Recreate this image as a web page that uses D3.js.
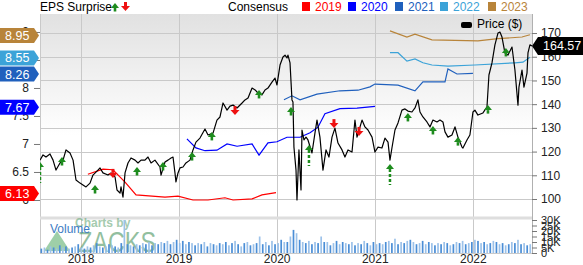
<!DOCTYPE html>
<html>
<head>
<meta charset="utf-8">
<script src="https://cdn.jsdelivr.net/npm/d3@7"></script>
<style>
body { margin: 0; background: #fff; }
svg { display: block; font-family: "Liberation Sans", Arial, sans-serif; }
</style>
</head>
<body>
<div id="chart"></div>
<script>
// ##### data (decimal year, value) #####
var priceData = [
[2017.587,116.4],[2017.618,118.6],[2017.648,117.7],[2017.689,119.0],[2017.720,116.4],[2017.750,112.2],
[2017.791,115.2],[2017.822,116.4],[2017.852,120.7],[2017.893,119.4],[2017.924,116.4],[2017.954,108.0],
[2017.995,106.7],[2018.025,105.9],[2018.056,105.1],[2018.097,106.7],[2018.127,110.1],[2018.178,112.2],
[2018.199,113.1],[2018.229,111.0],[2018.280,110.1],[2018.311,111.0],[2018.352,109.3],[2018.372,103.8],
[2018.403,102.5],[2018.413,105.1],[2018.433,100.8],[2018.454,111.0],[2018.484,115.2],[2018.515,117.3],
[2018.556,116.4],[2018.586,115.2],[2018.617,116.4],[2018.657,116.4],[2018.688,117.7],[2018.719,115.2],
[2018.759,116.4],[2018.810,113.5],[2018.821,110.1],[2018.861,115.6],[2018.892,116.4],[2018.923,117.3],
[2018.943,117.7],[2018.963,111.0],[2018.973,107.2],[2018.994,111.0],[2019.014,113.1],[2019.045,113.5],
[2019.075,115.2],[2019.116,116.4],[2019.147,120.7],[2019.177,124.0],[2019.218,125.7],[2019.269,129.5],
[2019.300,127.0],[2019.351,127.8],[2019.391,133.3],[2019.422,134.6],[2019.453,140.5],[2019.494,137.5],
[2019.524,139.2],[2019.555,139.6],[2019.596,138.4],[2019.647,140.5],[2019.677,141.8],[2019.708,142.6],
[2019.749,146.8],[2019.780,146.0],[2019.809,144.7],[2019.850,143.9],[2019.881,146.0],[2019.911,146.8],
[2019.952,149.3],[2019.983,151.0],[2020.003,148.1],[2020.034,156.5],[2020.064,159.9],[2020.085,160.7],
[2020.105,159.5],[2020.115,160.7],[2020.136,157.4],[2020.156,141.8],[2020.166,140.9],[2020.176,121.9],
[2020.197,112.2],[2020.207,99.6],[2020.227,120.7],[2020.248,103.8],[2020.258,129.1],[2020.278,124.9],
[2020.299,126.1],[2020.319,124.9],[2020.360,119.4],[2020.390,127.8],[2020.411,133.3],[2020.441,126.1],
[2020.472,112.2],[2020.503,120.7],[2020.533,117.7],[2020.564,126.1],[2020.594,129.9],[2020.625,123.6],
[2020.666,120.7],[2020.696,117.7],[2020.727,120.7],[2020.768,119.8],[2020.798,133.3],[2020.819,126.1],
[2020.870,133.3],[2020.900,130.4],[2020.931,129.1],[2020.972,126.1],[2021.002,119.8],[2021.033,121.9],
[2021.073,121.5],[2021.104,125.7],[2021.135,124.0],[2021.155,116.4],[2021.175,121.5],[2021.206,129.1],
[2021.237,132.1],[2021.277,137.5],[2021.308,138.0],[2021.338,137.1],[2021.379,136.7],[2021.410,138.4],
[2021.440,141.8],[2021.461,136.7],[2021.491,134.6],[2021.532,132.5],[2021.563,130.4],[2021.593,133.3],
[2021.634,132.5],[2021.665,133.3],[2021.695,132.5],[2021.716,128.3],[2021.746,126.1],[2021.787,127.0],
[2021.818,130.4],[2021.848,126.1],[2021.889,121.9],[2021.899,121.5],[2021.940,124.9],[2021.970,127.0],
[2022.001,136.7],[2022.021,137.5],[2022.052,135.4],[2022.103,136.3],[2022.144,138.8],[2022.164,152.3],
[2022.195,157.4],[2022.225,165.0],[2022.256,170.0],[2022.276,170.4],[2022.297,168.3],[2022.327,161.6],
[2022.358,160.7],[2022.399,164.1],[2022.429,154.4],[2022.460,139.6],[2022.470,147.2],[2022.501,154.4],
[2022.521,147.2],[2022.552,153.1],[2022.562,161.6],[2022.582,165.0],[2022.603,164.57]
];

// consensus EPS by fiscal year
var cons2019 = [[2018.075,6.46],[2018.229,6.55],[2018.331,6.54],[2018.454,6.32],[2018.566,6.09],[2018.861,6.05],
  [2018.994,6.07],[2019.147,6.0],[2019.300,6.0],[2019.473,6.04],[2019.555,6.0],[2019.749,6.02],[2019.850,6.09],[2019.993,6.13]];
var cons2020 = [[2019.085,7.09],[2019.177,6.93],[2019.269,6.88],[2019.391,6.89],[2019.494,7.0],[2019.596,6.96],
  [2019.749,7.0],[2019.820,6.80],[2019.911,7.02],[2020.003,7.04],[2020.105,7.12],[2020.238,7.12],[2020.340,7.20],
  [2020.421,7.30],[2020.492,7.54],[2020.645,7.63],[2020.819,7.64],[2021.002,7.67]];
var cons2021 = [[2020.074,7.79],[2020.156,7.86],[2020.238,7.79],[2020.411,7.89],[2020.645,7.95],[2020.829,7.96],
  [2020.951,8.02],[2021.002,8.07],[2021.237,8.05],[2021.410,7.95],[2021.491,8.11],[2021.716,8.11],[2021.746,8.34],
  [2021.838,8.25],[2022.001,8.26]];
var cons2022 = [[2021.155,8.63],[2021.237,8.63],[2021.328,8.48],[2021.410,8.52],[2021.491,8.45],[2021.583,8.41],
  [2021.746,8.39],[2022.021,8.41],[2022.429,8.45],[2022.511,8.46],[2022.582,8.55]];
var cons2023 = [[2021.155,9.02],[2021.328,8.91],[2021.410,8.96],[2021.583,8.86],[2022.052,8.84],[2022.256,8.88],
  [2022.501,8.91],[2022.582,8.95]];

// EPS surprise markers (decimal year, price at arrow tip)
var surpriseUp = [[2017.811,117.7],[2018.148,105.9],[2018.576,113.5],[2018.841,115.6],[2019.137,119.8],
  [2019.339,128.3],[2019.820,146.0],[2020.146,138.8],[2021.338,136.3],[2021.593,130.8],[2021.848,126.1],
  [2022.154,139.6],[2022.337,163.7]];
var surpriseUpBig = [[2017.587,115.6],[2020.329,122.8],[2021.155,114.8]];
var surpriseDown = [[2018.331,108.9],[2019.575,135.4],[2020.584,129.9],[2020.839,126.6]];

// volume (thousands), one bar per period from volStart
var volStart = 2017.592, volStep = 0.03135;
var volume = [4,5,3,6,5,4,7,5,6,4, 5,6,8,5,4,6,5,7,9,6, 5,6,8,7,6,5,9,30,8,7,
  6,8,7,9,8,10,7,9,8,10, 9,11,8,10,12,9,11,8,10,9, 7,9,8,10,6,9,8,7,9,8,
  10,7,9,11,8,6,9,10,7,8, 9,15,8,10,7,11,8,9,12,10, 10,15,21,18,12,10,9,11,8,10,
  9,15,10,10,7,9,11,8,10,9, 8,10,7,9,8,11,9,7,10,8, 9,8,10,11,9,13,8,10,9,11,
  12,10,8,9,11,8,10,9,7,9, 8,10,9,7,8,10,9,11,8,9, 10,12,11,9,10,8,9,11,10,8,
  9,7,8,10,9,12,8,9,7,8];

var yearTicks = [2018, 2019, 2020, 2021, 2022];
var priceTicks = [100, 110, 120, 130, 140, 150, 160, 170];
var epsTicks = [6, 6.5, 7, 7.5, 8, 8.5, 9];
var volTicks = [0, 5, 10, 15, 20, 25, 30];
var consNames = ["2019", "2020", "2021", "2022", "2023"];
var consLists = [cons2019, cons2020, cons2021, cons2022, cons2023];

var consColor = {"2019": "#ff0000", "2020": "#0000ff", "2021": "#2060bd", "2022": "#3ca3d8", "2023": "#b8843a"};

// ##### layout #####
var W = 583, H = 265;
var pLeft = 40, pRight = 532, pTop = 14, mainBottom = 216, volTop = 220, volBottom = 253;

var svg = d3.select("#chart").append("svg").attr("width", W).attr("height", H);

var x = d3.scaleLinear().domain([2017.587, 2022.603]).range([pLeft, pRight]);
var yP = d3.scaleLinear().domain([92.83, 178.03]).range([mainBottom, pTop]);
var yE = d3.scaleLinear().domain([5.714, 9.321]).range([mainBottom, pTop]);
var yV = d3.scaleLinear().domain([0, 30]).range([volBottom, volTop]);

var defs = svg.append("defs");
var grad = defs.append("linearGradient").attr("id", "bg").attr("x1", 0).attr("y1", 0).attr("x2", 0).attr("y2", 1);
grad.append("stop").attr("offset", "0").attr("stop-color", "#e1e1e1");
grad.append("stop").attr("offset", "0.6").attr("stop-color", "#ffffff");
defs.append("clipPath").attr("id", "clipMain").append("rect")
  .attr("x", pLeft).attr("y", pTop).attr("width", pRight - pLeft).attr("height", mainBottom - pTop);

svg.append("rect").attr("x", pLeft).attr("y", pTop).attr("width", pRight - pLeft).attr("height", mainBottom - pTop)
  .attr("fill", "url(#bg)");

// gridlines
svg.append("g").selectAll("line").data(priceTicks).enter().append("line")
  .attr("x1", pLeft).attr("x2", pRight)
  .attr("y1", function(d) { return Math.round(yP(d)) + 0.5; })
  .attr("y2", function(d) { return Math.round(yP(d)) + 0.5; })
  .attr("stroke", "#c9c9c9");
svg.append("g").selectAll("line").data([2017.587].concat(yearTicks)).enter().append("line")
  .attr("x1", function(d) { return Math.round(x(d)) + 0.5; })
  .attr("x2", function(d) { return Math.round(x(d)) + 0.5; })
  .attr("y1", pTop).attr("y2", volBottom)
  .attr("stroke", "#c9c9c9");

// separator between price and volume panes
svg.append("rect").attr("x", pLeft).attr("y", mainBottom + 0.5).attr("width", pRight - pLeft).attr("height", 3)
  .attr("fill", "#dedede");

// watermark
var wm = svg.append("g").attr("opacity", 0.6);
wm.append("polygon").attr("points", "44,251 57,231 70,251").attr("fill", "#5fb070");
wm.append("text").attr("x", 75).attr("y", 227).attr("font-size", 12).attr("font-weight", "bold")
  .attr("fill", "#6aa97a").text("Charts by");
wm.append("text").attr("x", 78).attr("y", 252).attr("font-size", 30).attr("fill", "#4a9560")
  .attr("textLength", 78).attr("lengthAdjust", "spacingAndGlyphs").text("ZACKS");

// volume bars
svg.append("g").selectAll("rect").data(volume).enter().append("rect")
  .attr("x", function(d, i) { return x(volStart + i * volStep); })
  .attr("y", function(d) { return yV(d); })
  .attr("width", 1.7)
  .attr("height", function(d) { return volBottom - yV(d); })
  .attr("fill", function(d, i) { return i % 2 ? "#9cc2ea" : "#4b8ed6"; });

svg.append("text").attr("x", 50).attr("y", 233).attr("font-size", 12).attr("fill", "#3d7cc4").text("Volume");

// plot border lines
svg.append("line").attr("x1", pRight + 0.5).attr("x2", pRight + 0.5).attr("y1", pTop).attr("y2", volBottom)
  .attr("stroke", "#b0b0b0");
svg.append("line").attr("x1", pLeft).attr("x2", pRight).attr("y1", volBottom + 0.5).attr("y2", volBottom + 0.5)
  .attr("stroke", "#c9c9c9");

// consensus lines and price
var plot = svg.append("g").attr("clip-path", "url(#clipMain)");
var epsLine = d3.line().x(function(d) { return x(d[0]); }).y(function(d) { return yE(d[1]); });
consNames.forEach(function(name, k) {
  plot.append("path").attr("d", epsLine(consLists[k]))
    .attr("fill", "none").attr("stroke", consColor[name]).attr("stroke-width", 1.2);
});
var priceLine = d3.line().x(function(d) { return x(d[0]); }).y(function(d) { return yP(d[1]); });
plot.append("path").attr("d", priceLine(priceData))
  .attr("fill", "none").attr("stroke", "#000").attr("stroke-width", 1.2).attr("stroke-linejoin", "round");

// surprise arrows
function upArrow(g, cx, ty, big) {
  g.append("polygon").attr("points", (cx - 4) + "," + (ty + 5) + " " + cx + "," + ty + " " + (cx + 4) + "," + (ty + 5))
    .attr("fill", "#1e8c1e");
  if (big) {
    g.append("line").attr("x1", cx).attr("x2", cx).attr("y1", ty + 5).attr("y2", ty + 21)
      .attr("stroke", "#1e8c1e").attr("stroke-width", 2.5).attr("stroke-dasharray", "3,2");
  } else {
    g.append("rect").attr("x", cx - 1.3).attr("y", ty + 5).attr("width", 2.6).attr("height", 3.5).attr("fill", "#1e8c1e");
  }
}
function downArrow(g, cx, by) {
  g.append("rect").attr("x", cx - 1.5).attr("y", by - 9).attr("width", 3).attr("height", 4).attr("fill", "#ee1111");
  g.append("polygon").attr("points", (cx - 4.5) + "," + (by - 5) + " " + (cx + 4.5) + "," + (by - 5) + " " + cx + "," + by)
    .attr("fill", "#ee1111");
}
surpriseUp.forEach(function(d) { upArrow(plot, x(d[0]), yP(d[1]), false); });
surpriseUpBig.forEach(function(d) { upArrow(plot, x(d[0]), yP(d[1]), true); });
surpriseDown.forEach(function(d) { downArrow(plot, x(d[0]), yP(d[1])); });

// axes
var axR = svg.append("g").attr("transform", "translate(" + pRight + ",0)")
  .call(d3.axisRight(yP).tickValues(priceTicks).tickSize(5).tickPadding(4));
var axV = svg.append("g").attr("transform", "translate(" + pRight + ",0)")
  .call(d3.axisRight(yV).tickValues(volTicks).tickSize(5).tickPadding(4)
    .tickFormat(function(d) { return d ? d + "K" : "0"; }));
var axL = svg.append("g").attr("transform", "translate(" + pLeft + ",0)")
  .call(d3.axisLeft(yE).tickValues(epsTicks).tickSize(6).tickPadding(5).tickFormat(d3.format("")));
var axX = svg.append("g").attr("transform", "translate(0," + volBottom + ")")
  .call(d3.axisBottom(x).tickValues(yearTicks).tickSize(0).tickPadding(1).tickFormat(d3.format("d")));
[axR, axV, axL, axX].forEach(function(a) {
  a.select(".domain").remove();
  a.selectAll("text").attr("font-family", "Liberation Sans, Arial, sans-serif").attr("font-size", 12).attr("fill", "#222");
  a.selectAll("line").attr("stroke", "#777");
});
axV.selectAll("text").attr("font-size", 11);

// last-value badges on the left
consNames.forEach(function(name, k) {
  var last = consLists[k][consLists[k].length - 1][1];
  var cy = yE(last) + 0.7;
  var b = svg.append("g").attr("transform", "translate(0," + cy + ")");
  b.append("path").attr("d", "M0,-7.5H34L39,0L34,7.5H0Z").attr("fill", consColor[name]);
  b.append("text").attr("x", 5).attr("y", 4.5).attr("font-size", 12.5).attr("fill", "#fff").text(last.toFixed(2));
});

// last price badge
var lastPrice = priceData[priceData.length - 1][1];
var pb = svg.append("g").attr("transform", "translate(" + pRight + "," + yP(lastPrice) + ")");
pb.append("path").attr("d", "M0,0L6,-9H51V9H6Z").attr("fill", "#000");
pb.append("text").attr("x", 11).attr("y", 4.5).attr("font-size", 12.5).attr("fill", "#fff").text(lastPrice.toFixed(2));

// legend
svg.append("text").attr("x", 40).attr("y", 11).attr("font-size", 12).attr("fill", "#000").text("EPS Surprise");
upArrow(svg, 115, 3, false);
downArrow(svg, 125.5, 11);
svg.append("text").attr("x", 228).attr("y", 11).attr("font-size", 12).attr("fill", "#000").text("Consensus");
var legX = [302, 348, 395, 440, 488];
consNames.forEach(function(name, k) {
  svg.append("rect").attr("x", legX[k]).attr("y", 2).attr("width", 8).attr("height", 9).attr("fill", consColor[name]);
  svg.append("text").attr("x", legX[k] + 13).attr("y", 11).attr("font-size", 12).attr("fill", consColor[name]).text(name);
});
svg.append("rect").attr("x", 461).attr("y", 22).attr("width", 11).attr("height", 6).attr("rx", 2).attr("fill", "#000");
svg.append("text").attr("x", 477).attr("y", 28).attr("font-size", 12).attr("fill", "#000").text("Price ($)");
</script>
</body>
</html>
